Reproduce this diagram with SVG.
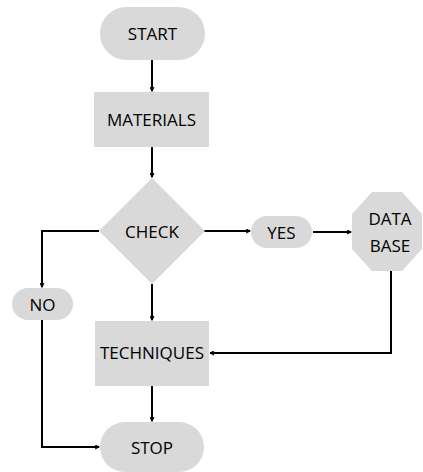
<svg xmlns="http://www.w3.org/2000/svg" width="423" height="472" viewBox="0 0 423 472">
<style>
.n{fill:#d9d9d9;stroke:none}
.t{font-family:"Open Sans","Liberation Sans",sans-serif;font-size:17px;fill:#000;text-anchor:middle;dominant-baseline:central}
.c{fill:none;stroke:#000;stroke-width:2}
</style>
<defs>
<marker id="a" viewBox="0 0 10 10" refX="9" refY="5" markerWidth="5" markerHeight="5" markerUnits="userSpaceOnUse" orient="auto">
<path d="M1,1 L9,5 L1,9" fill="none" stroke="#000" stroke-width="2.2"/>
</marker>
</defs>
<rect width="423" height="472" fill="#fff"/>
<g id="connectors">
<path class="c" d="M152,60 V91" marker-end="url(#a)"/>
<path class="c" d="M152,147 V177" marker-end="url(#a)"/>
<path class="c" d="M99,231 H42 V287" marker-end="url(#a)"/>
<path class="c" d="M204,231 H250" marker-end="url(#a)"/>
<path class="c" d="M313,232 H351" marker-end="url(#a)"/>
<path class="c" d="M152,284 V320" marker-end="url(#a)"/>
<path class="c" d="M391,271 V353 H210" marker-end="url(#a)"/>
<path class="c" d="M152,386 V421" marker-end="url(#a)"/>
<path class="c" d="M42,320 V447 H99" marker-end="url(#a)"/>
</g>
<g id="start"><rect class="n" x="100" y="7" width="105" height="53" rx="26.5"/><text class="t" x="152.5" y="33">START</text></g>
<g id="materials"><rect class="n" x="94" y="92" width="115" height="55"/><text class="t" x="151.5" y="119">MATERIALS</text></g>
<g id="check"><polygon class="n" points="152,178 205,231 152,284 99,231"/><text class="t" x="152" y="231">CHECK</text></g>
<g id="yes"><rect class="n" x="251" y="216" width="61" height="32" rx="16"/><text class="t" x="281.5" y="232">YES</text></g>
<g id="database"><polygon class="n" points="372,192 402,192 422,214 422,249 402,271 372,271 352,249 352,214"/><text class="t" x="390" y="218">DATA</text><text class="t" x="390" y="245">BASE</text></g>
<g id="no"><rect class="n" x="12" y="288" width="61" height="32" rx="16"/><text class="t" x="42.5" y="304">NO</text></g>
<g id="techniques"><rect class="n" x="95" y="321" width="114" height="65"/><text class="t" x="152" y="352">TECHNIQUES</text></g>
<g id="stop"><rect class="n" x="100" y="422" width="104" height="50" rx="25"/><text class="t" x="152" y="447">STOP</text></g>
</svg>
